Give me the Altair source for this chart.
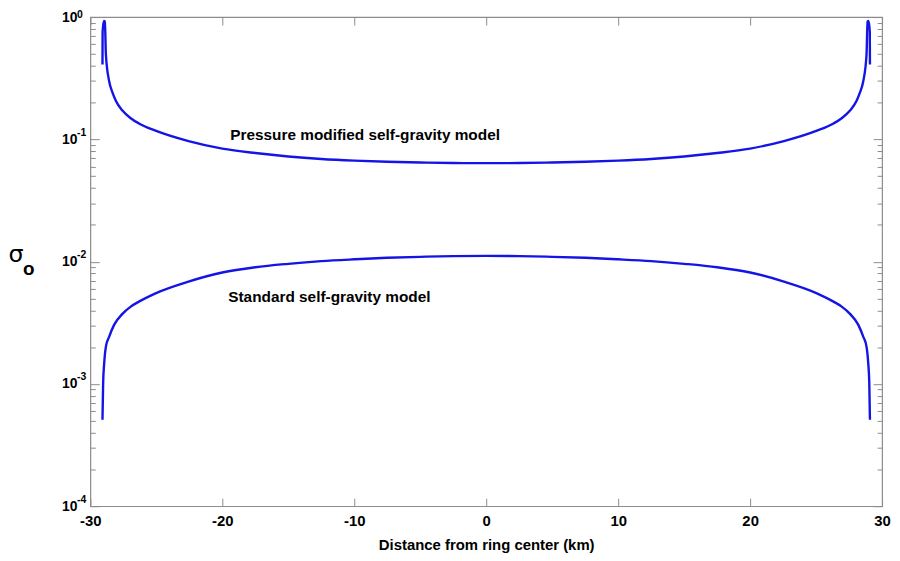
import altair as alt
import pandas as pd

# Pressure modified self-gravity model (upper curve)
x_pressure = [-29.08, -29.07, -28.97, -28.90, -28.82, -28.57, -28.32, -28.07, -27.57, -26.94,
              -26.32, -25.06, -22.56, -20.0, -17.5, -15.0, -12.5, -10.0, -7.5, -5.0, -2.5, 0.0,
              2.5, 5.0, 7.5, 10.0, 12.5, 15.0, 17.5, 20.0, 22.56, 25.06, 26.32, 26.94, 27.57,
              28.07, 28.32, 28.57, 28.82, 28.90, 28.97, 29.07, 29.08]
y_pressure = [0.41, 0.76, 0.93, 0.92, 0.49, 0.297, 0.241, 0.207, 0.172, 0.149,
              0.135, 0.1178, 0.0968, 0.0841, 0.0773, 0.0724, 0.0691, 0.0670, 0.0656, 0.0647, 0.0641, 0.0639,
              0.0641, 0.0647, 0.0656, 0.0670, 0.0691, 0.0724, 0.0773, 0.0841, 0.0968, 0.1178, 0.135, 0.149, 0.172,
              0.207, 0.241, 0.297, 0.49, 0.92, 0.93, 0.76, 0.41]

# Standard self-gravity model (lower curve)
x_standard = [-29.08, -29.03, -28.95, -28.82, -28.57, -28.2, -27.57, -26.94, -26.32, -25.06,
              -22.56, -20.0, -17.5, -15.0, -12.5, -10.0, -7.5, -5.0, -2.5, 0.0,
              2.5, 5.0, 7.5, 10.0, 12.5, 15.0, 17.5, 20.0, 22.56, 25.06,
              26.32, 26.94, 27.57, 28.2, 28.57, 28.82, 28.95, 29.03, 29.08]
y_standard = [5.1e-4, 1.02e-3, 1.48e-3, 2.02e-3, 2.44e-3, 3.04e-3, 3.74e-3, 4.29e-3, 4.71e-3, 5.51e-3,
              6.87e-3, 8.15e-3, 9.0e-3, 9.6e-3, 10.1e-3, 10.45e-3, 10.75e-3, 10.95e-3, 11.1e-3, 11.15e-3,
              11.1e-3, 10.95e-3, 10.75e-3, 10.45e-3, 10.1e-3, 9.6e-3, 9.0e-3, 8.15e-3, 6.87e-3, 5.51e-3,
              4.71e-3, 4.29e-3, 3.74e-3, 3.04e-3, 2.44e-3, 2.02e-3, 1.48e-3, 1.02e-3, 5.1e-4]

# Annotations
ann_text = ["Pressure modified self-gravity model", "Standard self-gravity model"]
ann_x = [-19.4, -19.55]
ann_y = [0.108, 0.00515]

# Axis ticks / labels
x_ticks = [-30, -20, -10, 0, 10, 20, 30]
y_major = [0.0001, 0.001, 0.01, 0.1, 1]
y_base_labels = ["10", "10", "10", "10", "10"]
y_exp_labels = ["-4", "-3", "-2", "-1", "0"]
y_all_ticks = [m * 10.0 ** e for e in range(-4, 0) for m in range(1, 10)] + [1.0]

rows = []
i = 0
for xv, yv in zip(x_pressure, y_pressure):
    rows.append({"x": xv, "y": yv, "series": "pressure", "idx": i}); i += 1
for xv, yv in zip(x_standard, y_standard):
    rows.append({"x": xv, "y": yv, "series": "standard", "idx": i}); i += 1
df = pd.DataFrame(rows)
ann = pd.DataFrame({"t": ann_text, "x": ann_x, "y": ann_y})

W, H = 798, 493
GRAY = "#8c8c8c"
FONT = "Liberation Sans"

xs = alt.Scale(domain=[-30, 30], nice=False, zero=False)
ys = alt.Scale(type="log", domain=[1e-4, 1], nice=False)


def make_expr(labels):
    e = ""
    for v, lab in zip(y_major, labels):
        e += f"abs(datum.value - {v}) < {v}*0.01 ? '{lab}' : "
    return e + "''"


major_test = "abs(log(datum.value)/LN10 - round(log(datum.value)/LN10)) < 0.001"
ytick_size = {"condition": {"test": major_test, "value": 9}, "value": 5}
exp_offset = {"condition": {"test": "datum.value > 0.5", "value": -3}, "value": -7}

line_color = "#1414e6"

# Layer A: visible lines, labelled axes
A = alt.Chart(df).mark_line(color=line_color, strokeWidth=2.4, interpolate="monotone").encode(
    x=alt.X("x:Q", scale=xs, axis=alt.Axis(orient="bottom", values=x_ticks, ticks=False, domain=False,
                                           grid=False, labelFont=FONT, labelFontWeight="bold",
                                           labelFontSize=15, labelColor="black", labelPadding=7,
                                           labelFlush=False, labelExpr="datum.value + ''",
                                           title="Distance from ring center (km)", titleFont=FONT,
                                           titleFontWeight="bold", titleFontSize=15, titleColor="black",
                                           titlePadding=10)),
    y=alt.Y("y:Q", scale=ys, axis=alt.Axis(orient="left", values=y_major,
                                           labelExpr=make_expr(y_base_labels),
                                           ticks=False, domain=False, grid=False, labelFont=FONT,
                                           labelFontWeight="bold", labelFontSize=14, labelColor="black",
                                           labelAlign="left", labelBaseline="middle",
                                           labelPadding=29, labelFlush=False, title=None)),
    detail="series:N",
    order="idx:Q",
)

# Layer B: invisible, inward ticks on bottom and left edges
B = alt.Chart(df).mark_line(opacity=0).encode(
    x=alt.X("x:Q", scale=xs, axis=alt.Axis(orient="top", offset=-H, values=x_ticks, labels=False,
                                           domain=False, grid=False, tickColor=GRAY, tickSize=8,
                                           title=None)),
    y=alt.Y("y:Q", scale=ys, axis=alt.Axis(orient="right", offset=-W, values=y_all_ticks, labels=False,
                                           domain=False, grid=False, tickColor=GRAY, tickSize=ytick_size,
                                           title=None)),
    detail="series:N",
    order="idx:Q",
)

# Layer C: invisible, inward ticks on top and right edges
C = alt.Chart(df).mark_line(opacity=0).encode(
    x=alt.X("x:Q", scale=xs, axis=alt.Axis(orient="bottom", offset=-H, values=x_ticks, labels=False,
                                           domain=False, grid=False, tickColor=GRAY, tickSize=8,
                                           title=None)),
    y=alt.Y("y:Q", scale=ys, axis=alt.Axis(orient="left", offset=-W, values=y_all_ticks, labels=False,
                                           domain=False, grid=False, tickColor=GRAY, tickSize=ytick_size,
                                           title=None)),
    detail="series:N",
    order="idx:Q",
)

# Annotations (this layer also carries the exponent labels of the y axis)
T = alt.Chart(ann).mark_text(align="left", baseline="middle", font=FONT, fontWeight="bold",
                             fontSize=15.5, color="black").encode(
    x=alt.X("x:Q", scale=xs, axis=None),
    y=alt.Y("y:Q", scale=ys, axis=alt.Axis(orient="left", values=y_major,
                                           labelExpr=make_expr(y_exp_labels),
                                           ticks=False, domain=False, grid=False, labelFont=FONT,
                                           labelFontWeight="bold", labelFontSize=10.5, labelColor="black",
                                           labelAlign="left", labelBaseline="middle",
                                           labelPadding=14, labelOffset=exp_offset, labelFlush=False,
                                           title=None)),
    text="t:N",
)

# Y-axis title: sigma with subscript o
sig = alt.Chart(pd.DataFrame({"t": ["σ"]})).mark_text(font="DejaVu Sans", fontSize=24, color="black",
                                                      align="center", baseline="middle").encode(
    x=alt.value(-75), y=alt.value(240), text="t:N")
sub = alt.Chart(pd.DataFrame({"t": ["o"]})).mark_text(font=FONT, fontWeight="bold", fontSize=19,
                                                      color="black", align="center",
                                                      baseline="middle").encode(
    x=alt.value(-62), y=alt.value(254), text="t:N")

chart = alt.layer(A, B, C, T, sig, sub).resolve_axis(x="independent", y="independent").properties(
    width=W, height=H,
    autosize="none",
    padding={"left": 83, "top": 7, "right": 10, "bottom": 45},
    background="white",
).configure_view(stroke=GRAY, strokeWidth=1.2)

chart.save("out.html", embed_options={"renderer": "svg", "actions": False})
